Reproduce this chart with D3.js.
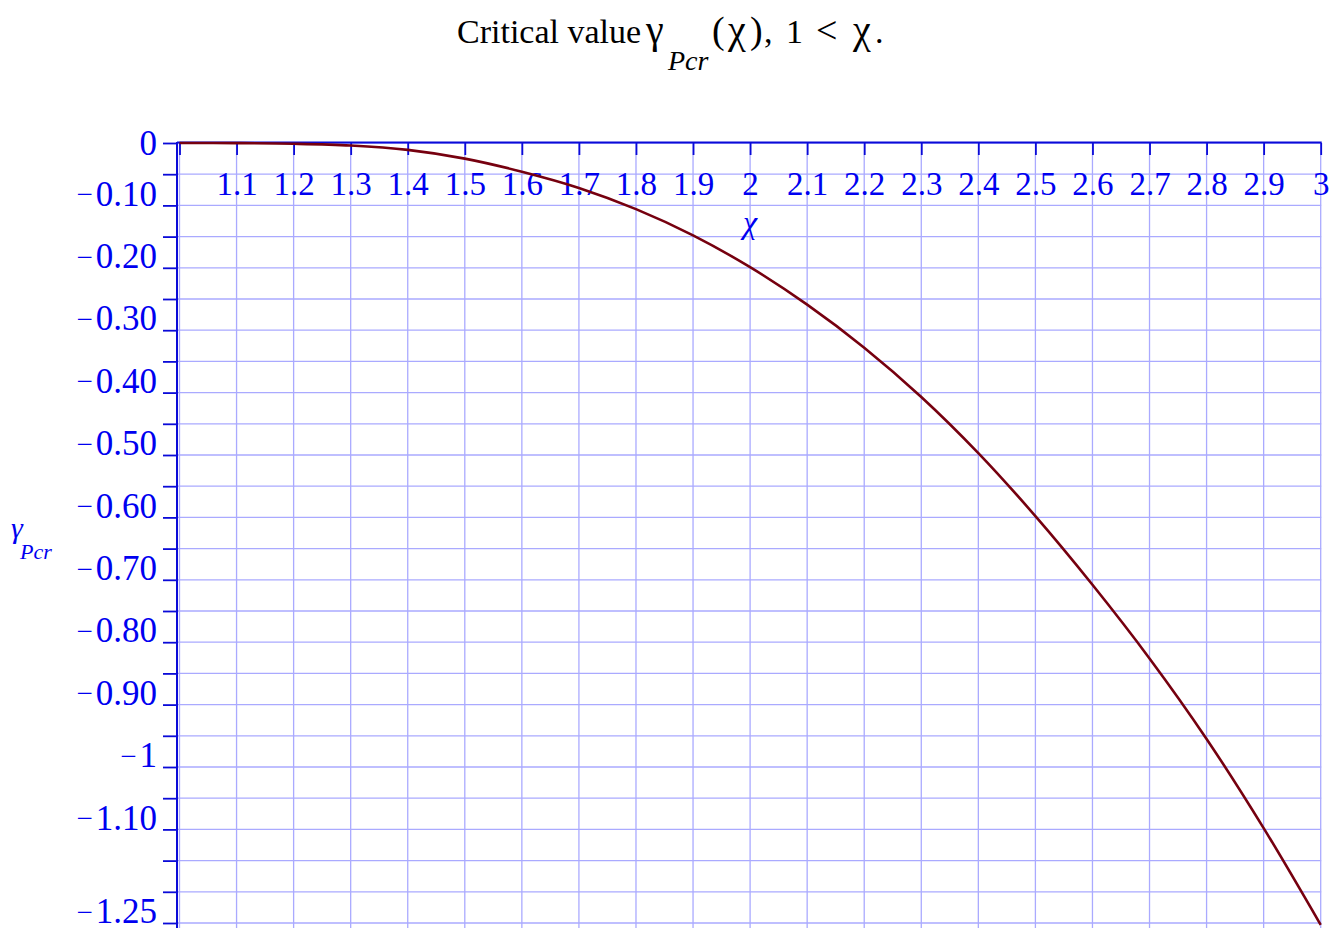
<!DOCTYPE html>
<html>
<head>
<meta charset="utf-8">
<script src="https://cdn.jsdelivr.net/npm/d3@7"></script>
<style>
  html, body { margin: 0; padding: 0; background: #fff; }
  svg { display: block; }
</style>
</head>
<body>
<svg id="chart" width="1336" height="950"></svg>
<script>
// ---- data ----
const chi = [1.0, 1.1, 1.2, 1.3, 1.4, 1.5, 1.6, 1.7, 1.8, 1.9, 2.0,
             2.1, 2.2, 2.3, 2.4, 2.5, 2.6, 2.7, 2.8, 2.9, 3.0];
const gammaPcr = [0, -0.0002, -0.0012, -0.004, -0.011, -0.025, -0.046, -0.072, -0.106, -0.148, -0.199,
                  -0.259, -0.328, -0.407, -0.497, -0.598, -0.708, -0.826, -0.955, -1.098, -1.253];

const xTickValues = [1.1, 1.2, 1.3, 1.4, 1.5, 1.6, 1.7, 1.8, 1.9, 2, 2.1, 2.2, 2.3, 2.4, 2.5, 2.6, 2.7, 2.8, 2.9, 3];
const xTickLabels = ["1.1", "1.2", "1.3", "1.4", "1.5", "1.6", "1.7", "1.8", "1.9", "2", "2.1", "2.2", "2.3", "2.4", "2.5", "2.6", "2.7", "2.8", "2.9", "3"];
const xGridValues = [1, 1.1, 1.2, 1.3, 1.4, 1.5, 1.6, 1.7, 1.8, 1.9, 2, 2.1, 2.2, 2.3, 2.4, 2.5, 2.6, 2.7, 2.8, 2.9, 3];

const yTickValues = [0, -0.1, -0.2, -0.3, -0.4, -0.5, -0.6, -0.7, -0.8, -0.9, -1, -1.1, -1.25];
const yTickLabels = ["0", "0.10", "0.20", "0.30", "0.40", "0.50", "0.60", "0.70", "0.80", "0.90", "1", "1.10", "1.25"];
const yGridValues = [0, -0.05, -0.1, -0.15, -0.2, -0.25, -0.3, -0.35, -0.4, -0.45, -0.5, -0.55, -0.6,
                     -0.65, -0.7, -0.75, -0.8, -0.85, -0.9, -0.95, -1, -1.05, -1.1, -1.15, -1.2, -1.25];

// title pieces: [text, italic, size, baselineShift, x]
const titlePieces = [
  ["Critical value", false, 34, 0, 457],
  ["\u03B3", false, 40, 0, 646],
  ["Pcr", true, 28, 27, 668],
  ["(", false, 38, 0, 712],
  ["\u03C7", false, 40, 0, 728],
  [")", false, 38, 0, 750],
  [",", false, 34, 0, 764],
  ["1", false, 34, 0, 786],
  ["<", false, 38, 0, 816],
  ["\u03C7", false, 40, 0, 853],
  [".", false, 34, 0, 875]
];

// ---- styles ----
const AXIS = "#0a0ad8";
const LABEL = "#0000f0";
const GRID = "#aaaaff";
const CURVE = "#76000f";
const SERIF = "'Liberation Serif', 'Times New Roman', serif";

const svg = d3.select("#chart");

const x = d3.scaleLinear().domain([1, 3]).range([179.5, 1320.7]);
const y = d3.scaleLinear().domain([0, -1.25]).range([143, 923]);
const axisX = 177;

// grid
const grid = svg.append("g");
grid.selectAll("line.h").data(yGridValues).join("line")
  .attr("x1", axisX).attr("x2", x(3) + 0.5)
  .attr("y1", d => y(d)).attr("y2", d => y(d))
  .attr("stroke", GRID).attr("stroke-width", 1.3);
grid.selectAll("line.v").data(xGridValues).join("line")
  .attr("x1", d => x(d)).attr("x2", d => x(d))
  .attr("y1", y(0)).attr("y2", y(-1.25) + 5)
  .attr("stroke", GRID).attr("stroke-width", 1.3);

// x axis (top, ticks downward)
const xAxis = d3.axisBottom(x)
  .tickValues([1].concat(xTickValues))
  .tickSize(12)
  .tickSizeOuter(0)
  .tickPadding(17)
  .tickFormat(d => { const i = xTickValues.indexOf(d); return i >= 0 ? xTickLabels[i] : ""; });
const gx = svg.append("g").attr("transform", `translate(0,${y(0)})`).call(xAxis);
gx.select(".domain").remove();
gx.selectAll(".tick line").attr("stroke", AXIS).attr("stroke-width", 1.8);
gx.selectAll(".tick text").attr("fill", LABEL).attr("font-family", SERIF).attr("font-size", 33);
svg.append("line").attr("x1", axisX).attr("x2", x(3) + 1)
  .attr("y1", y(0) - 0.5).attr("y2", y(0) - 0.5)
  .attr("stroke", AXIS).attr("stroke-width", 2);

// y axis (left)
const yAx = d3.axisLeft(y)
  .tickValues(yGridValues)
  .tickSize(14)
  .tickSizeOuter(0)
  .tickFormat(() => "");
const gy = svg.append("g").attr("transform", `translate(${axisX},0)`).call(yAx);
gy.select(".domain").remove();
gy.selectAll(".tick line").attr("stroke", AXIS).attr("stroke-width", 1.8);
svg.append("line").attr("x1", axisX).attr("x2", axisX)
  .attr("y1", y(0) - 1).attr("y2", y(-1.25) + 5)
  .attr("stroke", AXIS).attr("stroke-width", 2);

// y tick labels
const yl = svg.append("g");
yTickValues.forEach((v, i) => {
  const t = yl.append("text")
    .attr("x", 157).attr("y", y(v)).attr("dy", "0.35em")
    .attr("text-anchor", "end")
    .attr("fill", LABEL).attr("font-family", SERIF).attr("font-size", 35);
  if (v < 0) {
    t.append("tspan").attr("font-size", 29).attr("dy", "-0.04em").text("\u2212");
    t.append("tspan").attr("dx", 3).attr("dy", "0.04em").text(yTickLabels[i]);
  } else {
    t.text(yTickLabels[i]);
  }
});

// curve
const line = d3.line()
  .x((d, i) => x(chi[i]))
  .y(d => y(d))
  .curve(d3.curveCatmullRom.alpha(0.5));
svg.append("path").datum(gammaPcr)
  .attr("d", line)
  .attr("fill", "none")
  .attr("stroke", CURVE)
  .attr("stroke-width", 2.6);

// axis labels
svg.append("text").attr("x", 750).attr("y", 233).attr("text-anchor", "middle")
  .attr("fill", LABEL).attr("font-family", SERIF).attr("font-style", "italic")
  .attr("font-size", 32).text("\u03C7");

svg.append("text").attr("x", 11).attr("y", 538)
  .attr("fill", LABEL).attr("font-family", SERIF).attr("font-style", "italic")
  .attr("font-size", 30).text("\u03B3");
svg.append("text").attr("x", 20).attr("y", 559)
  .attr("fill", LABEL).attr("font-family", SERIF).attr("font-style", "italic")
  .attr("font-size", 22).text("Pcr");

// title
const tg = svg.append("g");
titlePieces.forEach(([txt, it, sz, sh, px]) => {
  tg.append("text").attr("x", px).attr("y", 43 + sh)
    .attr("fill", "#000").attr("font-family", SERIF)
    .attr("font-style", it ? "italic" : "normal")
    .attr("font-size", sz).text(txt);
});
</script>
</body>
</html>
